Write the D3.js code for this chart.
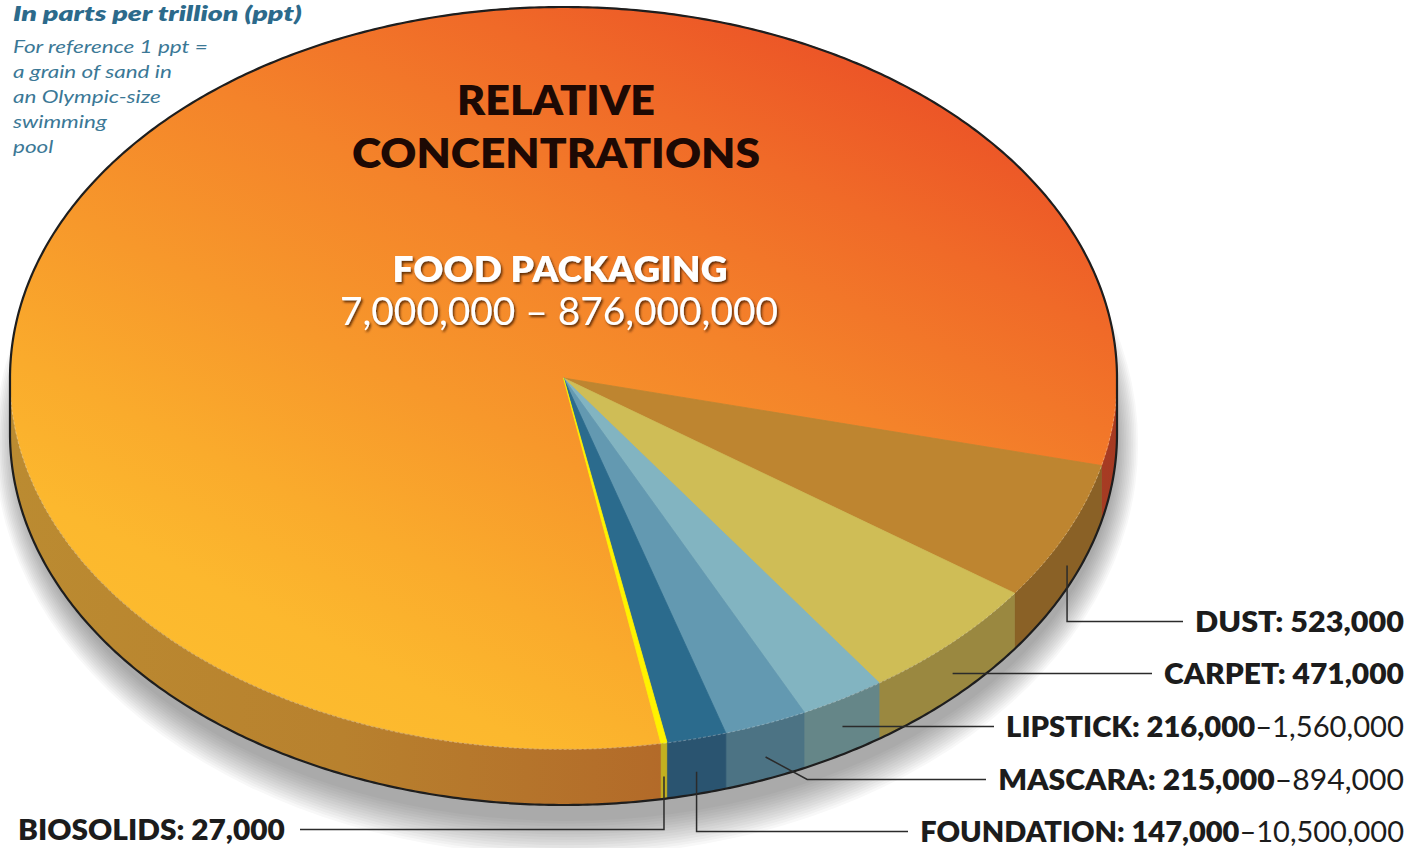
<!DOCTYPE html>
<html>
<head>
<meta charset="utf-8">
<script src="https://cdn.jsdelivr.net/npm/d3@7"></script>
<style>
  html, body { margin: 0; padding: 0; background: #ffffff; }
  svg { display: block; }
  text { font-family: Lato, "Open Sans", sans-serif; }
</style>
</head>
<body>
<svg id="chart" width="1411" height="848"></svg>
<script>
// ---- data -------------------------------------------------------------
const categories = ["FOOD PACKAGING", "DUST", "CARPET", "LIPSTICK", "MASCARA", "FOUNDATION", "BIOSOLIDS"];
const lowValues  = [7000000, 523000, 471000, 216000, 215000, 147000, 27000];
const highValues = [876000000, null, null, 1560000, 894000, 10500000, null];
// angular share of each wedge, in degrees (the infographic is not drawn to scale)
const wedgeDegrees = [293.7, 21.8, 19.8, 9.0, 8.7, 6.3, 0.6];
const noteLines = ["For reference 1 ppt =", "a grain of sand in", "an Olympic-size", "swimming", "pool"];

// ---- styling ----------------------------------------------------------
const topColors  = ["url(#foodTop)",  "#be8530", "#cfbd56", "#82b4c1", "#6399b1", "#2b6b8d", "#fff200"];
const sideColors = ["url(#foodSide)", "#8a6126", "#9a8840", "#658688", "#4c7384", "#2a5470", "#c2b020"];

// label placement: baseline, side, leader routing, text extent
const labelLayout = [
  null,
  { baseline: 632, side: "right", route: "down",     width: 209 },
  { baseline: 684, side: "right", route: "straight", width: 240 },
  { baseline: 737, side: "right", route: "straight", width: 398 },
  { baseline: 790, side: "right", route: "diagonal", width: 406 },
  { baseline: 842, side: "right", route: "down",     width: 484 },
  { baseline: 840, side: "left",  route: "down",     width: 267 }
];

const W = 1411, H = 848;
const cx = 563.5, cy = 378, rx = 553.5, ry = 371, depth = 56;
const rotationDeg = 169.84;      // where the first wedge starts, clockwise from 12 o'clock
const rightEdge = 1404, leftEdge = 18;

const svg = d3.select("#chart");
const defs = svg.append("defs");
const fmt = d3.format(",");

// gradient across the top face: defined in page coordinates, mapped back into
// the unit-disc space of the top group so it renders undistorted
const gTop = defs.append("linearGradient").attr("id", "foodTop")
  .attr("gradientUnits", "userSpaceOnUse")
  .attr("gradientTransform", `scale(${1 / rx},${1 / ry}) translate(${-cx},${-cy})`)
  .attr("x1", 1000).attr("y1", 130).attr("x2", 600).attr("y2", 930);
[[0, "#ec5527"], [0.15, "#f06a28"], [0.35, "#f4832a"], [0.55, "#f7982b"], [0.72, "#faab2c"], [0.85, "#fcb82e"], [1, "#fdbd2e"]]
  .forEach(([o, c]) => gTop.append("stop").attr("offset", o).attr("stop-color", c));

const gSide = defs.append("linearGradient").attr("id", "foodSide")
  .attr("gradientUnits", "userSpaceOnUse")
  .attr("x1", cx - rx).attr("y1", 0).attr("x2", cx + rx).attr("y2", 0);
[[0, "#bb8b31"], [0.3, "#b8812e"], [0.58, "#b36b29"], [0.9, "#a8442a"], [1, "#a63a22"]]
  .forEach(([o, c]) => gSide.append("stop").attr("offset", o).attr("stop-color", c));

// drop shadow for the white headline
defs.append("filter").attr("id", "textShadow").attr("x", "-10%").attr("y", "-30%").attr("width", "120%").attr("height", "160%")
  .append("feDropShadow").attr("dx", 1.5).attr("dy", 2).attr("stdDeviation", 1.3)
  .attr("flood-color", "#4a1d05").attr("flood-opacity", 0.85);

// ---- pie layout -------------------------------------------------------
const rows = categories.map((name, i) => ({
  name, i, low: lowValues[i], high: highValues[i], share: wedgeDegrees[i]
}));
const r0 = rotationDeg * Math.PI / 180;
const arcs = d3.pie().sort(null).value(d => d.share)
  .startAngle(r0).endAngle(r0 + 2 * Math.PI)(rows);

// point on the disc rim; theta measured clockwise from 3 o'clock in screen space
const rim = (theta, dz = 0) => [cx + rx * Math.cos(theta), cy + ry * Math.sin(theta) + dz];
const toTheta = a => a - Math.PI / 2;
const line = d3.line();

function band(t0, t1, dzTop, dzBottom) {
  const n = Math.max(2, Math.ceil((t1 - t0) / (Math.PI / 360)));
  const ts = d3.range(n + 1).map(k => t0 + (t1 - t0) * k / n);
  const pts = ts.map(t => rim(t, dzTop)).concat(ts.slice().reverse().map(t => rim(t, dzBottom)));
  return line(pts) + "Z";
}

// outer silhouette: back half of the top rim plus the front half of the base
function silhouette() {
  const n = 360;
  const back = d3.range(n + 1).map(k => rim(Math.PI + Math.PI * k / n, 0));
  const front = d3.range(n + 1).map(k => rim(Math.PI * k / n, depth));
  return line(back.concat(front)) + "Z";
}

// ground shadow: stacked translucent ellipses give a soft falloff below the base
svg.append("g").attr("fill", "#2e2626")
  .selectAll("ellipse").data(d3.range(14)).join("ellipse")
  .attr("cx", cx + 3).attr("cy", cy + depth + 10)
  .attr("rx", k => rx - 4 + k * 1.7)
  .attr("ry", k => ry + 6 + k * 2.7)
  .attr("fill-opacity", 0.033);

// side walls (only the front half faces the viewer)
const sides = svg.append("g");
arcs.forEach(d => {
  const t0 = toTheta(d.startAngle), t1 = toTheta(d.endAngle);
  [0, 2 * Math.PI].forEach(k => {
    const a = Math.max(t0, k), b = Math.min(t1, k + Math.PI);
    if (b > a) {
      sides.append("path")
        .attr("d", band(a, b, 0, depth))
        .attr("fill", sideColors[d.data.i])
        .attr("stroke", sideColors[d.data.i]).attr("stroke-width", 0.6);
    }
  });
});

// top faces: unit-radius arcs stretched into the ellipse
const tops = svg.append("g").attr("transform", `translate(${cx},${cy}) scale(${rx},${ry})`);
const arcGen = d3.arc().innerRadius(0).outerRadius(1);
tops.selectAll("path").data(arcs).join("path")
  .attr("d", arcGen)
  .attr("fill", d => topColors[d.data.i])
  .attr("stroke", d => topColors[d.data.i])
  .attr("stroke-width", 0.8)
  .attr("vector-effect", "non-scaling-stroke");

// faint highlight along the front edge of the top face
svg.append("path")
  .attr("d", line(d3.range(181).map(k => rim(Math.PI * k / 180, 0.5))))
  .attr("fill", "none").attr("stroke", "#ffffff").attr("stroke-opacity", 0.28)
  .attr("stroke-width", 1).attr("stroke-dasharray", "3,2");

// outline
svg.append("path")
  .attr("d", silhouette())
  .attr("fill", "none").attr("stroke", "#1e1e1e").attr("stroke-width", 2.2)
  .attr("stroke-linejoin", "round");

// ---- text helpers -----------------------------------------------------
function fit(sel, target, anchorX) {
  const w = sel.node().getComputedTextLength();
  const s = target / w;
  sel.attr("transform", `translate(${anchorX},0) scale(${s},1) translate(${-anchorX},0)`);
  return s;
}

// ---- leader lines & labels -------------------------------------------
const leaders = svg.append("g").attr("fill", "none").attr("stroke", "#2b2b2b").attr("stroke-width", 1.5);
const labels = svg.append("g").attr("fill", "#1c1c1c");

arcs.forEach(d => {
  const lay = labelLayout[d.data.i];
  if (!lay) return;
  const mid = toTheta((d.startAngle + d.endAngle) / 2);
  const start = rim(mid, depth * 0.6);
  const lineY = lay.baseline - 10.5;

  const t = labels.append("text")
    .attr("x", lay.side === "right" ? rightEdge : leftEdge)
    .attr("y", lay.baseline)
    .attr("text-anchor", lay.side === "right" ? "end" : "start")
    .attr("font-size", 28);
  t.append("tspan").attr("font-weight", 800)
    .text(`${d.data.name}: ${fmt(d.data.low)}`);
  if (d.data.high != null) {
    t.append("tspan").attr("font-weight", 400)
      .text(`\u2013${fmt(d.data.high)}`);
  }
  const anchor = lay.side === "right" ? rightEdge : leftEdge;
  fit(t, lay.width, anchor);
  const textNear = lay.side === "right" ? rightEdge - lay.width - 12 : leftEdge + lay.width + 15;

  let pts;
  if (lay.route === "straight") {
    pts = [[start[0], lineY], [textNear, lineY]];
  } else if (lay.route === "diagonal") {
    const dx = (lineY - start[1]) * 1.85;
    pts = [start, [start[0] + dx, lineY], [textNear, lineY]];
  } else {
    pts = [start, [start[0], lineY], [textNear, lineY]];
  }
  leaders.append("path").attr("d", line(pts));
});

// ---- headline inside the disc ----------------------------------------
const title = svg.append("g").attr("fill", "#1d0904").attr("text-anchor", "middle")
  .attr("font-size", 42).attr("font-weight", 800);
fit(title.append("text").attr("x", 556).attr("y", 115).text("RELATIVE"), 198, 556);
fit(title.append("text").attr("x", 556).attr("y", 168).text("CONCENTRATIONS"), 408, 556);

const food = rows[0];
const foodText = svg.append("g").attr("fill", "#ffffff").attr("text-anchor", "middle")
  .attr("filter", "url(#textShadow)");
fit(foodText.append("text").attr("x", 560).attr("y", 282)
  .attr("font-size", 35).attr("font-weight", 800).text(food.name), 335, 560);
fit(foodText.append("text").attr("x", 559).attr("y", 325)
  .attr("font-size", 39).attr("font-weight", 400)
  .text(`${fmt(food.low)} \u2013 ${fmt(food.high)}`), 438, 559);

// ---- units note -------------------------------------------------------
fit(svg.append("text").attr("x", 13).attr("y", 21)
  .attr("font-size", 21).attr("font-weight", 800).attr("font-style", "italic")
  .attr("fill", "#2c6a8b").text("In parts per trillion (ppt)"), 289, 13);

const note = svg.append("g").attr("fill", "#3b7896").attr("font-size", 17.5)
  .attr("font-style", "italic");
let noteScale = 1;
noteLines.forEach((s, k) => {
  const t = note.append("text").attr("x", 13).attr("y", 53 + k * 25).text(s);
  if (k === 0) noteScale = fit(t, 195, 13);
  else t.attr("transform", `translate(13,0) scale(${noteScale},1) translate(-13,0)`);
});
</script>
</body>
</html>
